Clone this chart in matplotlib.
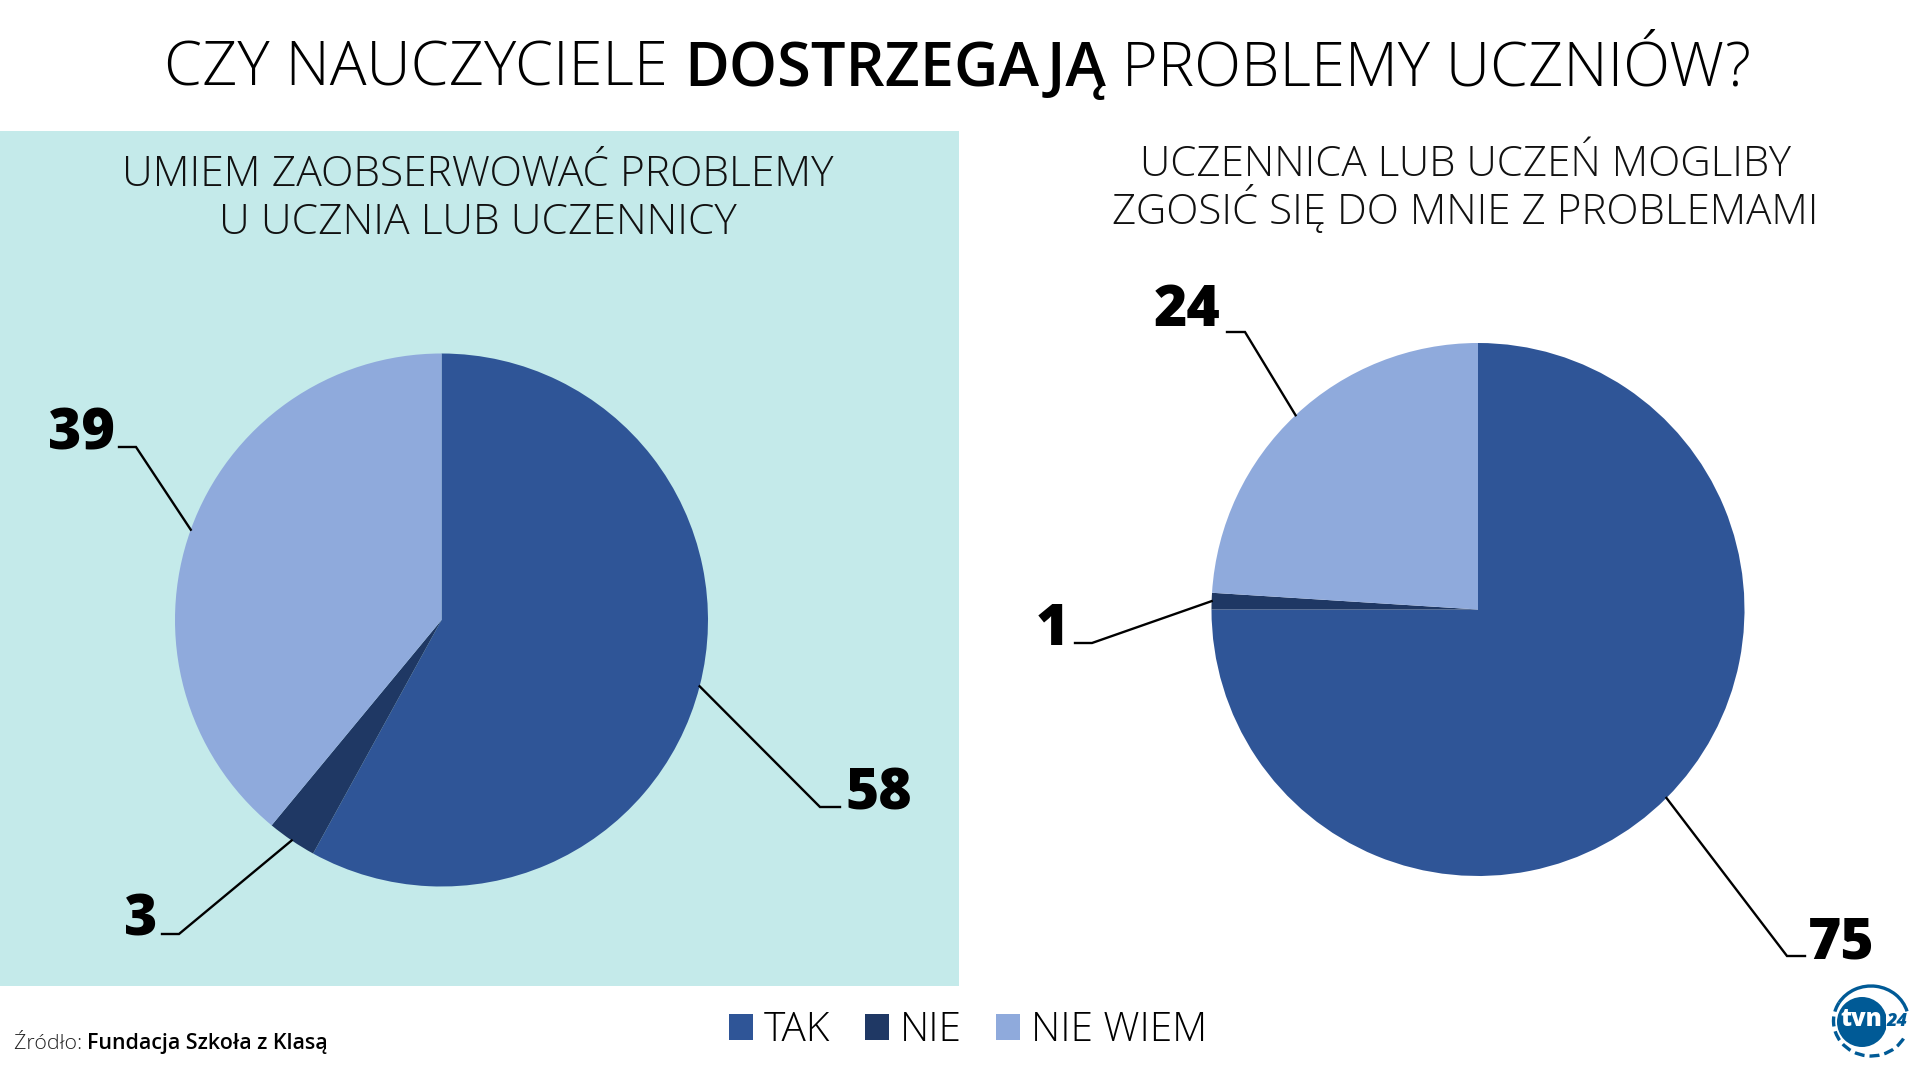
import math
import matplotlib
matplotlib.use("Agg")
import matplotlib.pyplot as plt
from matplotlib.patches import Rectangle, Arc, Circle

W, H = 1920, 1067
DPI = 100

categories = ["TAK", "NIE", "NIE WIEM"]
left_values = [58, 3, 39]
right_values = [75, 1, 24]
colors = ["#2F5597", "#1F3864", "#8FAADC"]
title_parts = [("CZY NAUCZYCIELE ", 300), ("DOSTRZEGAJĄ", 600), (" PROBLEMY UCZNIÓW?", 300)]
left_title = ["UMIEM ZAOBSERWOWAĆ PROBLEMY", "U UCZNIA LUB UCZENNICY"]
right_title = ["UCZENNICA LUB UCZEŃ MOGLIBY", "ZGOSIĆ SIĘ DO MNIE Z PROBLEMAMI"]
FONT = "Open Sans"

def px(s):
    return s * 72 / DPI

fig = plt.figure(figsize=(W / DPI, H / DPI), dpi=DPI, facecolor="white")
ax = fig.add_axes([0, 0, 1, 1])
Y = lambda y: H - y

ax.add_patch(Rectangle((0, Y(986)), 959, 855, color="#C4EAEA", lw=0, zorder=0))

R = 266.5
def draw_pie(values, cx, cy, leaders):
    wedges, _ = ax.pie(values, colors=colors, center=(cx, Y(cy)), radius=R,
                       startangle=90, counterclock=False, frame=True,
                       wedgeprops=dict(linewidth=0))
    total = sum(values)
    cum = 0
    for v, (ex, ey, tx, lx, ly) in zip(values, leaders):
        a = 2 * math.pi * (cum + v / 2) / total
        cum += v
        sx, sy = cx + R * math.sin(a), cy - R * math.cos(a)
        ax.plot([sx, ex, tx], [Y(sy), Y(ey), Y(ey)], color="black", lw=1.7,
                solid_joinstyle="miter", zorder=3)
        ax.text(lx, Y(ly + 6), str(v), fontsize=px(57), fontweight=800, family=FONT,
                ha="center", va="center", color="black", zorder=4)
    return wedges

wedges = draw_pie(left_values, 441.5, 620,
         [(820, 807, 840, 879, 789), (179, 934, 162, 141, 915), (136, 447, 119, 81, 429)])
draw_pie(right_values, 1478, 609.5,
         [(1787, 956, 1805, 1841, 938), (1092, 643, 1075, 1052, 624.5), (1245, 332, 1227, 1187, 306)])

ax.set_xlim(0, W)
ax.set_ylim(0, H)
ax.set_aspect("auto")
ax.axis("off")

for line, base in zip(left_title, (185.7, 233.7)):
    ax.text(477.5, Y(base), line, fontsize=px(42.6), fontweight=300, family=FONT,
            ha="center", va="baseline", color="#111111")
for line, base in zip(right_title, (175.7, 223.7)):
    ax.text(1465, Y(base), line, fontsize=px(42.1), fontweight=300, family=FONT,
            ha="center", va="baseline", color="#111111")

# title: three runs centred together
r = fig.canvas.get_renderer()
runs = []
for s, w in title_parts:
    t = ax.text(0, Y(85.7), s.replace(" ", "\u00a0"), fontsize=px(61.2), fontweight=w, family=FONT,
                ha="left", va="baseline", color="black")
    runs.append(t)
total = sum(t.get_window_extent(r).width for t in runs)
x = 957.5 - total / 2
for t in runs:
    t.set_x(x)
    x += t.get_window_extent(r).width

# legend
ax.legend(wedges, categories, loc="center", bbox_to_anchor=(968 / W, 1 - 1030.5 / H),
          ncol=3, frameon=False, prop=dict(family=FONT, weight=300, size=px(40.5)),
          handlelength=0.6, handleheight=0.6, handletextpad=0.27, columnspacing=0.85,
          borderpad=0, borderaxespad=0)

# source
a = ax.text(13.5, Y(1049), "Źródło:\u00a0", fontsize=px(21.4), fontweight=300, family=FONT,
            ha="left", va="baseline", color="#222222")
ax.text(13.5 + a.get_window_extent(r).width, Y(1049), "Fundacja Szkoła z Klasą", fontsize=px(21.4),
        fontweight=600, family=FONT, ha="left", va="baseline", color="black")

# logo
blue = "#005A96"
ax.add_patch(Circle((1862, Y(1022)), 25, color=blue, lw=0, zorder=5))
ax.add_patch(Arc((1871, Y(1021)), 75, 70, angle=0, theta1=15, theta2=150, color=blue, lw=2.4, zorder=5))
ax.add_patch(Arc((1871, Y(1021)), 75, 70, angle=0, theta1=150, theta2=335, color=blue, lw=2.4,
                 linestyle=(0, (3, 1.5)), zorder=5))
ax.text(1861, Y(1020), "tvn", fontsize=px(24), fontweight=800, family=FONT, color="white",
        ha="center", va="center", zorder=6)
ax.text(1897, Y(1022), "24", fontsize=px(18), fontweight=800, style="italic", family=FONT, color=blue,
        ha="center", va="center", zorder=6,
        bbox=dict(facecolor="white", edgecolor="none", pad=0.5))

fig.savefig("out.png", dpi=DPI, facecolor="white")
